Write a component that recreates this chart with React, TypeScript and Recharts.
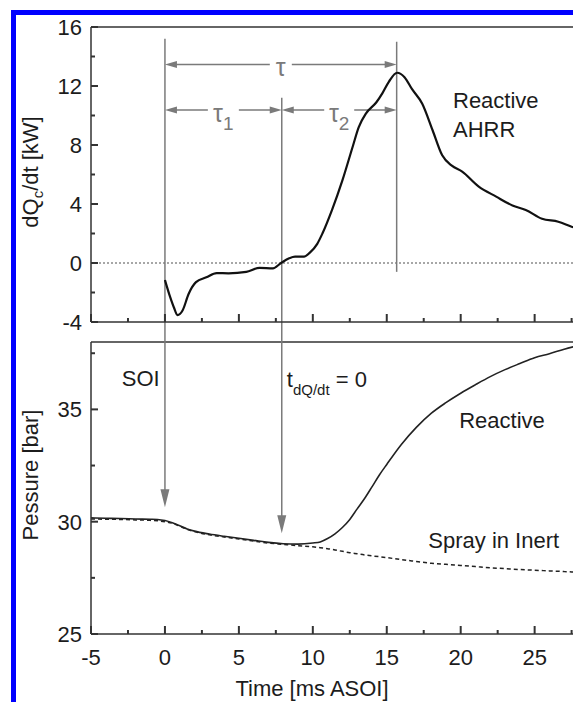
import React from "react";
import { LineChart, Line, XAxis, YAxis, ReferenceLine, ReferenceDot } from "recharts";

const FONT = '"Liberation Sans", Arial, Helvetica, sans-serif';
const INK = "#1c1c1c";
const AXIS = "#333";
const GUIDE = "#7a7a7a";

// apparent heat release rate (top panel)
const ahrrTime = [0, 0.35, 0.6, 0.85, 1.2, 1.6, 2.1, 2.8, 3.5, 4.3, 5.5, 6.4, 7.3, 7.85, 8.4, 8.8, 9.4, 9.8, 10.3, 10.65, 11.3, 12.0, 12.7, 13.1, 13.6, 14.3, 14.7, 15.15, 15.7, 16.2, 16.7, 17.4, 18.1, 18.75, 19.4, 20.1, 21.2, 22.4, 23.5, 24.4, 25.5, 26.6, 27.5, 28];
const ahrrValue = [-1.15, -2.3, -3.0, -3.53, -3.2, -2.1, -1.3, -0.97, -0.68, -0.7, -0.6, -0.33, -0.36, 0, 0.32, 0.43, 0.43, 0.7, 1.3, 2.0, 3.6, 5.6, 7.9, 9.2, 10.15, 10.9, 11.5, 12.3, 12.9, 12.6, 11.8, 10.8, 9.0, 7.3, 6.6, 6.2, 5.2, 4.5, 3.9, 3.6, 3.0, 2.8, 2.46, 2.3];

// chamber pressure (bottom panel)
const pressureTime = [-5, -4, -3, -2, -1, -0.5, 0, 0.5, 1, 1.5, 2, 3, 4, 5, 6, 7, 8, 9, 10, 10.5, 11, 11.5, 12, 12.5, 13, 13.5, 14, 14.5, 15, 16, 17, 18, 19, 20, 21, 22, 23, 24, 25, 26, 27, 28];
const reactivePressure = [30.17, 30.15, 30.14, 30.12, 30.11, 30.1, 30.05, 29.95, 29.82, 29.68, 29.58, 29.45, 29.35, 29.26, 29.17, 29.08, 29.02, 29.0, 29.05, 29.1, 29.25, 29.46, 29.74, 30.1, 30.57, 31.03, 31.55, 32.08, 32.55, 33.45, 34.2, 34.82, 35.3, 35.72, 36.1, 36.46, 36.77, 37.04, 37.3, 37.48, 37.68, 37.85];
const inertPressure = [30.12, 30.11, 30.1, 30.08, 30.06, 30.04, 30.0, 29.93, 29.8, 29.66, 29.56, 29.42, 29.32, 29.23, 29.14, 29.05, 28.99, 28.93, 28.88, 28.84, 28.8, 28.74, 28.68, 28.62, 28.57, 28.52, 28.48, 28.44, 28.4, 28.31, 28.23, 28.15, 28.1, 28.05, 28.0, 27.95, 27.91, 27.87, 27.84, 27.81, 27.78, 27.75];

const timeTicks = [-5, -2.5, 0, 2.5, 5, 7.5, 10, 12.5, 15, 17.5, 20, 22.5, 25, 27.5];
const ahrrTicks = [-4, -2, 0, 2, 4, 6, 8, 10, 12, 14, 16];
const pressureTicks = [25, 27.5, 30, 32.5, 35, 37.5];

// event times [ms ASOI]
const soiTime = 0;
const zeroCrossTime = 7.9;
const peakTime = 15.67;

const ahrrData = ahrrTime.map((t, i) => ({ t, q: ahrrValue[i] }));
const pressureData = pressureTime.map((t, i) => ({ t, reactive: reactivePressure[i], inert: inertPressure[i] }));

// ticks point into the plot, labels only on the major ones
const xTick = (showLabel: boolean) => (p: any) => {
  const v = p.payload.value;
  const major = v % 5 === 0;
  return (
    <g>
      <line x1={p.x} x2={p.x} y1={p.y} y2={p.y - (major ? 8 : 4)} stroke={AXIS} strokeWidth={2} />
      {showLabel && major && (
        <text x={p.x} y={p.y + 31} textAnchor="middle" fontSize={22} fontFamily={FONT} fill={INK}>
          {v}
        </text>
      )}
    </g>
  );
};

const yTick = (step: number) => (p: any) => {
  const v = p.payload.value;
  const major = v % step === 0;
  return (
    <g>
      <line x1={p.x} x2={p.x + (major ? 7 : 4)} y1={p.y} y2={p.y} stroke={AXIS} strokeWidth={2} />
      {major && (
        <text x={p.x - 9} y={p.y + 8} textAnchor="end" fontSize={22} fontFamily={FONT} fill={INK}>
          {v}
        </text>
      )}
    </g>
  );
};

const plainLine = (p: any) => <line x1={p.x1} y1={p.y1} x2={p.x2} y2={p.y2} stroke={GUIDE} strokeWidth={1.5} />;

const downArrow = (p: any) => {
  const len = 18;
  const half = 4.5;
  return (
    <g>
      <line x1={p.x1} y1={p.y1} x2={p.x2} y2={p.y2 - len + 2} stroke={GUIDE} strokeWidth={1.5} />
      <polygon points={`${p.x2},${p.y2} ${p.x2 - half},${p.y2 - len} ${p.x2 + half},${p.y2 - len}`} fill={GUIDE} />
    </g>
  );
};

const spanArrow = (sub: string, gap: number) => (p: any) => {
  const len = 12;
  const half = 3.5;
  const y = p.y1;
  const left = Math.min(p.x1, p.x2);
  const right = Math.max(p.x1, p.x2);
  const mid = (left + right) / 2;
  return (
    <g>
      <line x1={left + len - 2} y1={y} x2={right - len + 2} y2={y} stroke={GUIDE} strokeWidth={1.5} />
      <polygon points={`${left},${y} ${left + len},${y - half} ${left + len},${y + half}`} fill={GUIDE} />
      <polygon points={`${right},${y} ${right - len},${y - half} ${right - len},${y + half}`} fill={GUIDE} />
      <rect x={mid - gap / 2} y={y - 4} width={gap} height={8} fill="#fff" />
      <text x={mid} y={y + 11.5} textAnchor="middle" fontSize={25} fontFamily={FONT} fill={GUIDE}>
        τ
        {sub && (
          <tspan dy={8.5} fontSize={19}>
            {sub}
          </tspan>
        )}
      </text>
    </g>
  );
};

const note = (lines: string[]) => (p: any) => (
  <text x={p.cx} y={p.cy} fontSize={22} fontFamily={FONT} fill={INK}>
    {lines.map((s, i) => (
      <tspan key={s} x={p.cx} dy={i === 0 ? 0 : 28.4}>
        {s}
      </tspan>
    ))}
  </text>
);

const zeroNote = (p: any) => (
  <text x={p.cx} y={p.cy} fontSize={22} fontFamily={FONT} fill={INK}>
    t
    <tspan dy={8} fontSize={15}>
      dQ/dt
    </tspan>
    <tspan dy={-8}> = 0</tspan>
  </text>
);

function HeatReleasePanel() {
  return (
    <LineChart width={579} height={342} data={ahrrData} margin={{ top: 27, right: 0, bottom: 19, left: 0 }}>
      <XAxis
        type="number"
        dataKey="t"
        domain={[-5, 28]}
        ticks={timeTicks}
        interval={0}
        height={1}
        tickSize={0}
        tickMargin={0}
        tickLine={false}
        axisLine={{ stroke: AXIS, strokeWidth: 1.5 }}
        tick={xTick(false)}
        allowDataOverflow
      />
      <YAxis
        type="number"
        domain={[-4, 16]}
        ticks={ahrrTicks}
        interval={0}
        width={91}
        tickSize={0}
        tickMargin={0}
        tickLine={false}
        axisLine={{ stroke: AXIS, strokeWidth: 1.5 }}
        tick={yTick(4)}
        allowDataOverflow
      />
      <ReferenceLine y={16} stroke={AXIS} strokeWidth={1.5} />
      <ReferenceLine y={0} stroke="#8a8a8a" strokeWidth={1.5} strokeDasharray="2 2" />
      <ReferenceLine segment={[{ x: soiTime, y: 15.2 }, { x: soiTime, y: -5.4 }]} ifOverflow="visible" shape={plainLine} />
      <ReferenceLine segment={[{ x: zeroCrossTime, y: 11.2 }, { x: zeroCrossTime, y: -5.4 }]} ifOverflow="visible" shape={plainLine} />
      <ReferenceLine segment={[{ x: peakTime, y: 15.0 }, { x: peakTime, y: -0.6 }]} ifOverflow="visible" shape={plainLine} />
      <ReferenceLine segment={[{ x: soiTime, y: 13.45 }, { x: peakTime, y: 13.45 }]} ifOverflow="visible" shape={spanArrow("", 22)} />
      <ReferenceLine segment={[{ x: soiTime, y: 10.37 }, { x: zeroCrossTime, y: 10.37 }]} ifOverflow="visible" shape={spanArrow("1", 31)} />
      <ReferenceLine segment={[{ x: zeroCrossTime, y: 10.37 }, { x: peakTime, y: 10.37 }]} ifOverflow="visible" shape={spanArrow("2", 30)} />
      <ReferenceDot x={19.48} y={10.49} ifOverflow="visible" shape={note(["Reactive", "AHRR"])} />
      <Line type="monotone" dataKey="q" stroke="#111" strokeWidth={2.2} dot={false} isAnimationActive={false} />
    </LineChart>
  );
}

function PressurePanel() {
  return (
    <LineChart width={579} height={702} data={pressureData} margin={{ top: 342, right: 0, bottom: 0, left: 0 }}>
      <XAxis
        type="number"
        dataKey="t"
        domain={[-5, 28]}
        ticks={timeTicks}
        interval={0}
        height={68}
        tickSize={0}
        tickMargin={0}
        tickLine={false}
        axisLine={{ stroke: AXIS, strokeWidth: 1.5 }}
        tick={xTick(true)}
        allowDataOverflow
      />
      <YAxis
        type="number"
        domain={[25, 38]}
        ticks={pressureTicks}
        interval={0}
        width={91}
        tickSize={0}
        tickMargin={0}
        tickLine={false}
        axisLine={{ stroke: AXIS, strokeWidth: 1.5 }}
        tick={yTick(5)}
        allowDataOverflow
      />
      <ReferenceLine y={38} stroke={AXIS} strokeWidth={1.5} />
      <ReferenceLine segment={[{ x: soiTime, y: 38 }, { x: soiTime, y: 30.64 }]} ifOverflow="visible" shape={downArrow} />
      <ReferenceLine segment={[{ x: zeroCrossTime, y: 38 }, { x: zeroCrossTime, y: 29.49 }]} ifOverflow="visible" shape={downArrow} />
      <ReferenceDot x={-2.92} y={36.02} ifOverflow="visible" shape={note(["SOI"])} />
      <ReferenceDot x={8.24} y={35.99} ifOverflow="visible" shape={zeroNote} />
      <ReferenceDot x={19.9} y={34.19} ifOverflow="visible" shape={note(["Reactive"])} />
      <ReferenceDot x={17.81} y={28.81} ifOverflow="visible" shape={note(["Spray in Inert"])} />
      <Line type="monotone" dataKey="inert" stroke="#222" strokeWidth={1.5} strokeDasharray="4 3" dot={false} isAnimationActive={false} />
      <Line type="monotone" dataKey="reactive" stroke="#222" strokeWidth={1.6} dot={false} isAnimationActive={false} />
    </LineChart>
  );
}

export default function App() {
  return (
    <div style={{ position: "absolute", left: 0, top: 0, width: 573, height: 702, overflow: "hidden", background: "#fff" }}>
      <div style={{ position: "absolute", left: 11, top: 10, width: 5, height: 692, background: "#0000ff" }} />
      <div style={{ position: "absolute", left: 11, top: 10, width: 562, height: 5, background: "#0000ff" }} />
      <div style={{ position: "absolute", left: 0, top: 0 }}>
        <PressurePanel />
      </div>
      <div style={{ position: "absolute", left: 0, top: 0 }}>
        <HeatReleasePanel />
      </div>
      <svg width={573} height={702} style={{ position: "absolute", left: 0, top: 0, pointerEvents: "none" }}>
        <text x={38} y={172} transform="rotate(-90 38 172)" textAnchor="middle" fontSize={22} fontFamily={FONT} fill={INK}>
          dQ
          <tspan dy={5} fontSize={15}>
            c
          </tspan>
          <tspan dy={-5}>/dt [kW]</tspan>
        </text>
        <text x={38} y={475} transform="rotate(-90 38 475)" textAnchor="middle" fontSize={22} fontFamily={FONT} fill={INK}>
          Pessure [bar]
        </text>
        <text x={312} y={696} textAnchor="middle" fontSize={22} fontFamily={FONT} fill={INK}>
          Time [ms ASOI]
        </text>
      </svg>
    </div>
  );
}
